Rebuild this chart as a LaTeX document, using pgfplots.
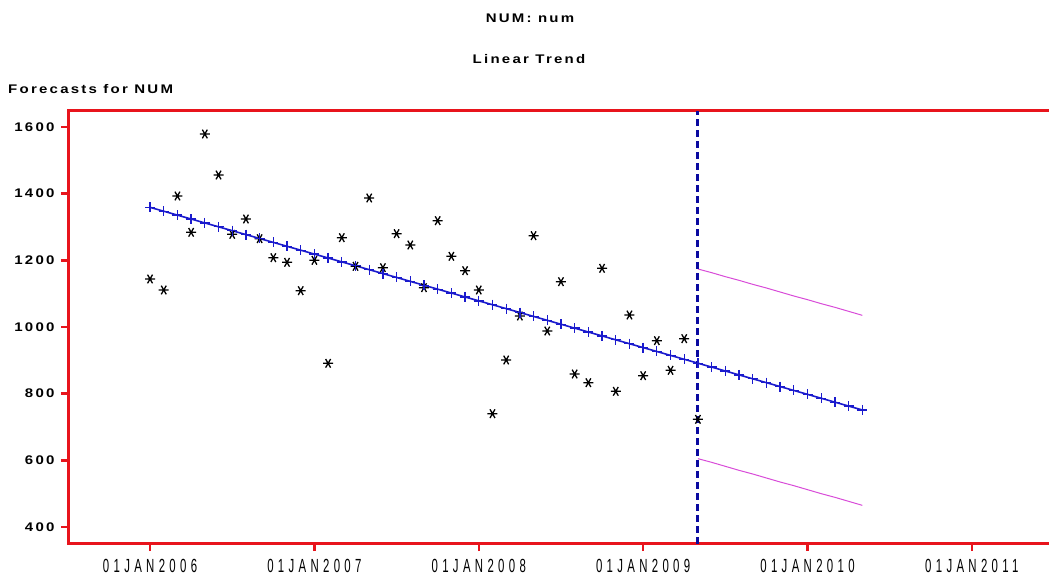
\documentclass[border=0pt]{standalone}
\usepackage{fontspec}
\setmainfont{Liberation Sans}
\usepackage{graphicx}
\usepackage{pgfplots}
\pgfplotsset{compat=1.18}
\newfontfamily\sasfont[LetterSpace=15]{Liberation Sans}
\newfontfamily\datefont[LetterSpace=38]{Liberation Sans}
\newcommand\tb[1]{\scalebox{1.2}[1]{\fontsize{12.5}{14}\sasfont\bfseries #1}}
\newcommand\dl[1]{\scalebox{0.6}[1]{\fontsize{19}{21}\datefont #1}}
\definecolor{sasred}{HTML}{E8141C}
\definecolor{sasblue}{HTML}{1A1ACD}
\definecolor{sasnavy}{HTML}{0A0AA0}
\definecolor{sasmag}{HTML}{D84BD8}

% x = months since Jan 2006
\begin{document}
\begin{tikzpicture}
\begin{axis}[at={(68pt,34pt)}, anchor=south west, scale only axis,
  width=984pt, height=433pt,
  xmin=-5.99, xmax=65.85, ymin=349, ymax=1648,
  axis line style={draw=none},
  tick align=outside, xtick pos=bottom, ytick pos=left,
  major tick length=7pt, tick style={sasred, line width=2.5pt},
  xtick={0,12,24,36,48,60},
  xticklabels={\dl{01JAN2006},\dl{01JAN2007},\dl{01JAN2008},\dl{01JAN2009},\dl{01JAN2010},\dl{01JAN2011}},
  xticklabel style={yshift=-5pt},
  ytick={400,600,800,1000,1200,1400,1600},
  yticklabels={\tb{400},\tb{600},\tb{800},\tb{1000},\tb{1200},\tb{1400},\tb{1600}},
  yticklabel style={xshift=-3pt},
  clip=false]
\draw[sasred, line width=3pt, line join=miter]
  (rel axis cs:1,1) -- (rel axis cs:0,1) -- (rel axis cs:0,0) -- (rel axis cs:1,0);
% confidence limits
\addplot[sasmag, line width=1pt] coordinates {(40,1174) (41,1163) (42,1151) (43,1140) (44,1128) (45,1117) (46,1105) (47,1093) (48,1082) (49,1070) (50,1059) (51,1047) (52,1035)};
\addplot[sasmag, line width=1pt] coordinates {(40,605) (41,594) (42,582) (43,570) (44,559) (45,547) (46,535) (47,524) (48,512) (49,500) (50,489) (51,477) (52,465)};
% actual values
\addplot[only marks, mark=asterisk, mark size=5pt, mark options={black, line width=1.3pt, rotate=90}] coordinates {
(0,1144) (1,1111) (2,1393) (3,1284) (4,1579) (5,1456) (6,1278) (7,1324) (8,1265) (9,1208)
(10,1194) (11,1109) (12,1200) (13,891) (14,1268) (15,1182) (16,1387) (17,1178) (18,1280) (19,1246)
(20,1118) (21,1319) (22,1212) (23,1169) (24,1111) (25,740) (26,901) (27,1033) (28,1274) (29,988)
(30,1136) (31,859) (32,833) (33,1176) (34,807) (35,1036) (36,854) (37,959) (38,870) (39,965) (40,723)};
% linear trend forecast
\addplot[sasblue, line width=1.6pt, mark=+, mark size=5pt, mark options={line width=1.3pt}] coordinates {
(0,1359.0) (1,1347.3) (2,1335.6) (3,1323.9) (4,1312.2) (5,1300.6) (6,1288.9) (7,1277.2) (8,1265.5) (9,1253.8)
(10,1242.1) (11,1230.4) (12,1218.7) (13,1207.0) (14,1195.3) (15,1183.7) (16,1172.0) (17,1160.3) (18,1148.6) (19,1136.9)
(20,1125.2) (21,1113.5) (22,1101.8) (23,1090.1) (24,1078.4) (25,1066.8) (26,1055.1) (27,1043.4) (28,1031.7) (29,1020.0)
(30,1008.3) (31,996.6) (32,984.9) (33,973.2) (34,961.5) (35,949.9) (36,938.2) (37,926.5) (38,914.8) (39,903.1)
(40,891.4) (41,879.7) (42,868.0) (43,856.3) (44,844.6) (45,833.0) (46,821.3) (47,809.6) (48,797.9) (49,786.2)
(50,774.5) (51,762.8) (52,751.1)};
% forecast origin
\addplot[sasnavy, line width=3pt, dash pattern=on 7pt off 4pt] coordinates {(40,349) (40,1648)};
\end{axis}
\node at (530pt,560pt) {\tb{NUM: num}};
\node at (529pt,519pt) {\tb{Linear Trend}};
\node[anchor=west, inner sep=0pt] at (8pt,489pt) {\tb{Forecasts for NUM}};
\pgfresetboundingbox
\path[use as bounding box] (0,0) rectangle (1049pt,578pt);
\end{tikzpicture}
\end{document}
